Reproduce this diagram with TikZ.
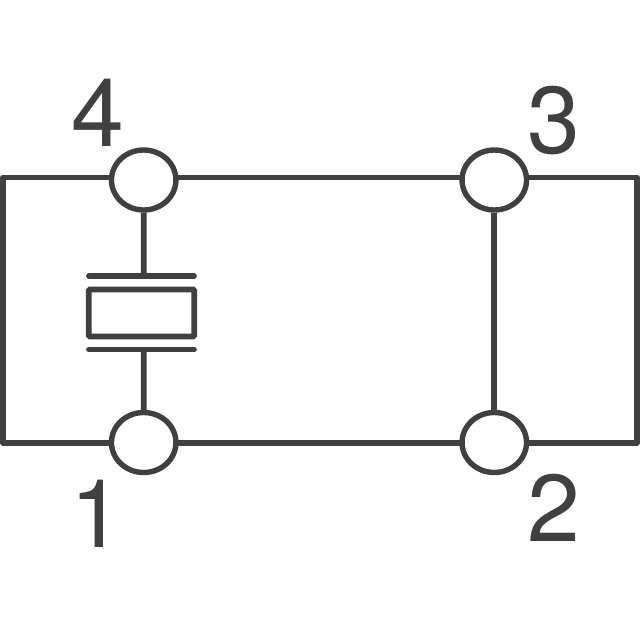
\documentclass[tikz,border=0pt]{standalone}
\usepackage{fontspec}
\usetikzlibrary{shapes.geometric}
\setmainfont{TeX Gyre Heros}
\definecolor{ink}{RGB}{64,64,66}
\tikzset{
  wire/.style={draw=ink,line width=5.8pt},
  term/.style={ellipse,draw=ink,fill=white,line width=5.4pt,minimum width=64.5pt,minimum height=60pt,inner sep=0pt},
  lbl/.style={text=ink,font=\fontsize{95}{95}\selectfont,inner sep=0pt},
  plate/.style={draw=ink,line width=5.6pt,fill=white,rounded corners=1pt}
}
\begin{document}
\begin{tikzpicture}[x=1pt,y=-1pt]
\useasboundingbox (0,0) rectangle (640,640);
\fill[white] (0,0) rectangle (640,640);
\coordinate (tl) at (2.9,177.5);
\coordinate (tr) at (637,177.5);
\coordinate (bl) at (2.9,443);
\coordinate (br) at (637,443);
\coordinate (ptl) at (89,276.3);
\coordinate (ptr) at (194,276.3);
\coordinate (pbl) at (89,349.5);
\coordinate (pbr) at (194,349.5);
\coordinate (ct) at (143.8,276.3);
\coordinate (cb) at (143.8,349.5);
\draw[wire,line join=round] (tl) -- (tr) -- (br) -- (bl) -- cycle;
\node[term] (n4) at (143.7,180) {};
\node[term] (n3) at (494.3,180) {};
\node[term] (n1) at (143.7,442.5) {};
\node[term] (n2) at (494.3,442.5) {};
\draw[wire] (n3) -- (n2);
\draw[wire] (n4) -- (ct);
\draw[wire] (n1) -- (cb);
\draw[wire,line cap=round] (ptl) -- (ptr);
\draw[wire,line cap=round] (pbl) -- (pbr);
\node[plate,minimum width=105.5pt,minimum height=47pt,inner sep=0pt] (xt) at (141.5,313) {};
\node[lbl] (l4) at (98,113) {4};
\node[lbl] (l3) at (554,121) {3};
\node[lbl] (l1) at (96.5,513.5) {1};
\node[lbl] (l2) at (554,508) {2};
\end{tikzpicture}
\end{document}
